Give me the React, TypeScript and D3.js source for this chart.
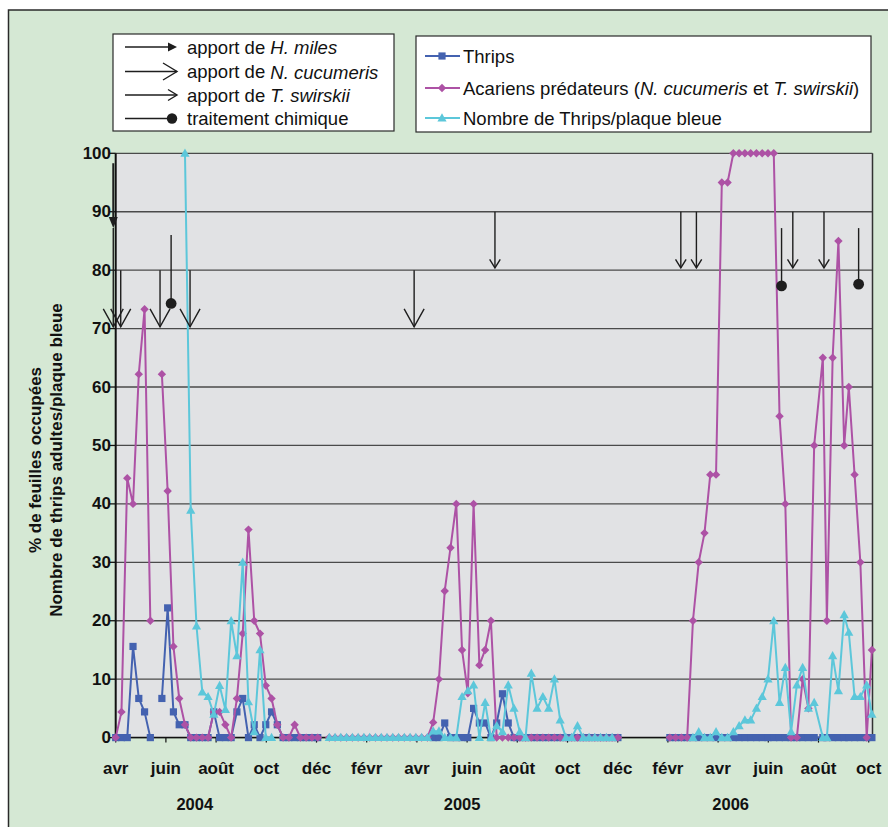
import React from 'react';
import * as d3 from 'd3';

// ---------- axis labels ----------
const monthLabels = ['avr', 'juin', 'août', 'oct', 'déc', 'févr', 'avr', 'juin', 'août', 'oct', 'déc', 'févr', 'avr', 'juin', 'août', 'oct'];
const monthTickIndex = [0, 2, 4, 6, 8, 10, 12, 14, 16, 18, 20, 22, 24, 26, 28, 30]; // months since avril 2004
const yearLabels = ['2004', '2005', '2006'];
const yearMonthPos = [3.15, 13.8, 24.5];
const yTicks = [0, 10, 20, 30, 40, 50, 60, 70, 80, 90, 100];

// ---------- data (x = semaines depuis le 1er avril 2004) ----------
// Thrips (% de feuilles occupées)
const thripsStart2004 = 0;
const thrips2004 = [0, 0, 0, 15.6, 6.7, 4.4, 0, null, 6.7, 22.2, 4.4, 2.2, 2.2, 0, 0, 0, 0, 4.4, 0, 0, 0, 4.4, 6.7, 0, 2.2, 0, 2.2, 4.4, 2.2, 0, 0, 0, 0, 0, 0, 0];
const thripsStart2005 = 55;
const thrips2005 = [0, 0, 2.5, 0, 0, 0, 0, 5, 2.5, 2.5, 0, 2.5, 7.5, 2.5, 0, 0, 0, 0, 0, 0, 0, 0, 0, 0, 0, 0, 0, 0, 0, 0, 0, 0, 0];

// Acariens prédateurs (% de feuilles occupées)
const acarStart2004 = 0;
const acar2004 = [0, 4.4, 44.4, 40, 62.2, 73.3, 20, null, 62.2, 42.2, 15.6, 6.7, 2.2, 0, 0, 0, 0, 4.4, 4.4, 2.2, 0, 6.7, 17.8, 35.6, 20, 17.8, 8.9, 6.7, 2.2, 0, 0, 2.2, 0, 0, 0, 0];
const acarStart2005 = 37;
const acar2005 = [0, 0, 0, 0, 0, 0, 0, 0, 0, 0, 0, 0, 0, 0, 0, 0, 0, 0, 2.6, 10, 25.1, 32.5, 40, 15, 7.6, 40, 12.4, 15, 20, 0, 0, 0, 0, 0, 0, 0, 0, 0, 0, 0, 0, 0, 0, 0, 0, 0, 0, 0, 0, 0, 0];

// 2006 sampling weeks
const weeks2006 = [96, 97, 98, 99, 100, 101, 102, 103, 104, 105, 106, 107, 108, 109, 110, 111, 112, 113, 114, 115, 116, 117, 118, 119, 120, 121, 122.5, 123.2, 124.2, 125.2, 126.2, 127, 128, 129, 130.1, 131];
const thrips2006 = [0, 0, 0, 0, 0, 0, 0, 0, 0, 0, 0, 0, 0, 0, 0, 0, 0, 0, 0, 0, 0, 0, 0, 0, 0, 0, 0, 0, 0, 0, 0, 0, 0, 0, 0, 0];
const acar2006 = [0, 0, 0, 0, 20, 30, 35, 45, 45, 95, 95, 100, 100, 100, 100, 100, 100, 100, 100, 55, 40, 0, 0, 10, 5, 50, 65, 20, 65, 85, 50, 60, 45, 30, 0, 15];

// Nombre de Thrips / plaque bleue
const plaqueStart2004 = 12;
const plaque2004 = [100, 38.9, 19.1, 7.8, 7, 4, 8.9, 4.8, 20, 14, 30, 6.1, 1, 15, 0, 0];
const plaqueStart2005 = 37;
const plaque2005 = [0, 0, 0, 0, 0, 0, 0, 0, 0, 0, 0, 0, 0, 0, 0, 0, 0, 0, 1.1, 1.1, 0, 0, 0, 7, 8, 9, 0, 6, 0, 2, 1, 9, 5, 1, 0, 11, 5, 7, 5, 10, 3, 0, 0, 2, 0, 0, 0, 0, 0, 0];
const plaqueWeeks2006 = [100, 101, 102, 103, 104, 105, 106, 107, 108, 109, 110, 111, 112, 113, 114, 115, 116, 117, 118, 119, 120, 121, 122.5, 123.2, 124.2, 125.2, 126.2, 127, 128, 129, 130.1, 131];
const plaque2006 = [0, 1, 0, 0, 1, 0, 0, 1, 2, 3, 3, 5, 7, 10, 20, 6, 12, 1, 9, 12, 5, 6, 0, 0, 14, 8, 21, 18, 7, 7, 9, 4];

// Interventions (x en semaines, y en unités de l'axe)
const hMilesEvents = [{ w: -0.42, from: 98.3, to: 87.2 }];
const cucumerisEvents = [
  { w: -0.42, from: 87.2, to: 70.3 },
  { w: 0.87, from: 80, to: 70.3 },
  { w: 7.68, from: 80, to: 70.3 },
  { w: 12.88, from: 80, to: 70.3 },
  { w: 51.7, from: 80, to: 70.3 },
];
const swirskiiEvents = [
  { w: 65.7, from: 90, to: 80.4 },
  { w: 97.9, from: 90, to: 80.4 },
  { w: 100.6, from: 90, to: 80.4 },
  { w: 117.3, from: 90, to: 80.4 },
  { w: 122.7, from: 90, to: 80.4 },
];
const chemEvents = [
  { w: 9.6, from: 86, to: 74.3 },
  { w: 115.35, from: 87.2, to: 77.3 },
  { w: 128.7, from: 87.2, to: 77.6 },
];

// ---------- layout ----------
const W = 888;
const H = 827;
const plotLeft = 115.7;
const plotRight = 872.5;
const plotTop = 153.3;
const plotBottom = 737.6;
const WEEKS_PER_MONTH = 365.25 / 12 / 7;

const FONT = "'Liberation Sans', Arial, Helvetica, sans-serif";
const C_THRIPS = '#4462b0';
const C_ACAR = '#ad52a5';
const C_PLAQUE = '#5cc7da';
const BG = '#d5e8d4';
const PLOT_BG = '#e1e2e4';

type Pt = { w: number; v: number | null };
const seg = (start: number, vals: (number | null)[]): Pt[] => vals.map((v, i) => ({ w: start + i, v }));
const segW = (weeks: number[], vals: (number | null)[]): Pt[] => weeks.map((w, i) => ({ w, v: vals[i] }));

const x = d3.scaleLinear().domain([0, 30 * WEEKS_PER_MONTH]).range([115.7, 868.7]);
const y = d3.scaleLinear().domain([0, 100]).range([plotBottom, plotTop]);
const xm = (m: number) => x(m * WEEKS_PER_MONTH);

const lineGen = d3
  .line<Pt>()
  .defined((d) => d.v !== null)
  .x((d) => x(d.w))
  .y((d) => y(d.v as number));

const thripsSegs = [seg(thripsStart2004, thrips2004), seg(thripsStart2005, thrips2005), segW(weeks2006, thrips2006)];
const acarSegs = [seg(acarStart2004, acar2004), seg(acarStart2005, acar2005), segW(weeks2006, acar2006)];
const plaqueSegs = [seg(plaqueStart2004, plaque2004), seg(plaqueStart2005, plaque2005), segW(plaqueWeeks2006, plaque2006)];

const squarePath = 'M-3.6,-3.6H3.6V3.6H-3.6Z';
const diamondPath = 'M0,-4.2L4.2,0L0,4.2L-4.2,0Z';
const trianglePath = 'M0,-4.8L4.6,3.4L-4.6,3.4Z';

function Series({ segs, color, marker }: { segs: Pt[][]; color: string; marker: string }) {
  return (
    <g>
      {segs.map((s, i) => (
        <path key={'l' + i} d={lineGen(s) || ''} fill="none" stroke={color} strokeWidth={2} strokeLinejoin="round" />
      ))}
      {segs.map((s, i) =>
        s
          .filter((d) => d.v !== null)
          .map((d, j) => (
            <path key={'m' + i + '-' + j} d={marker} transform={`translate(${x(d.w)},${y(d.v as number)})`} fill={color} />
          ))
      )}
    </g>
  );
}

const vHead = (tx: number, ty: number, hw: number, h: number) => `M${tx - hw},${ty - h}L${tx},${ty}L${tx + hw},${ty - h}`;

export default function App() {
  const arrowColor = '#1e1e1e';
  return (
    <svg width={W} height={H} style={{ position: 'absolute', left: 0, top: 0 }} fontFamily={FONT}>
      <rect x={0} y={0} width={W} height={H} fill="#ffffff" />
      <rect x={8.5} y={10} width={W + 10} height={H + 10} fill={BG} stroke="#2a2a2a" strokeWidth={1.5} />

      {/* Legend 1 */}
      <g>
        <rect x={113} y={34} width={281} height={97} fill="#fff" stroke="#2a2a2a" strokeWidth={1.2} />
        {/* H. miles */}
        <line x1={125} y1={47} x2={170} y2={47} stroke={arrowColor} strokeWidth={1.4} />
        <path d="M168,42.5L177,47L168,51.5Z" fill={arrowColor} />
        <text x={187} y={47} fontSize={18.5} dominantBaseline="central" fill="#111">
          apport de <tspan fontStyle="italic">H. miles</tspan>
        </text>
        {/* N. cucumeris */}
        <line x1={125} y1={71.5} x2={177} y2={71.5} stroke={arrowColor} strokeWidth={1.4} />
        <path d="M163,63L177,71.5L163,80" fill="none" stroke={arrowColor} strokeWidth={1.4} />
        <text x={187} y={71.5} fontSize={18.5} dominantBaseline="central" fill="#111">
          apport de <tspan fontStyle="italic">N. cucumeris</tspan>
        </text>
        {/* T. swirskii */}
        <line x1={125} y1={95} x2={177} y2={95} stroke={arrowColor} strokeWidth={1.4} />
        <path d="M168,89.5L177,95L168,100.5" fill="none" stroke={arrowColor} strokeWidth={1.4} />
        <text x={187} y={95} fontSize={18.5} dominantBaseline="central" fill="#111">
          apport de <tspan fontStyle="italic">T. swirskii</tspan>
        </text>
        {/* traitement chimique */}
        <line x1={125} y1={118.5} x2={172} y2={118.5} stroke={arrowColor} strokeWidth={1.4} />
        <circle cx={172} cy={118.5} r={5.2} fill={arrowColor} />
        <text x={187} y={118.5} fontSize={18.5} dominantBaseline="central" fill="#111">
          traitement chimique
        </text>
      </g>

      {/* Legend 2 */}
      <g>
        <rect x={416} y={36} width={455} height={96} fill="#fff" stroke="#2a2a2a" strokeWidth={1.2} />
        <line x1={425} y1={56} x2={460} y2={56} stroke={C_THRIPS} strokeWidth={2} />
        <path d={squarePath} transform="translate(442,56)" fill={C_THRIPS} />
        <text x={463} y={56} fontSize={18.5} dominantBaseline="central" fill="#111">Thrips</text>
        <line x1={425} y1={88} x2={460} y2={88} stroke={C_ACAR} strokeWidth={2} />
        <path d={diamondPath} transform="translate(442,88)" fill={C_ACAR} />
        <text x={463} y={88} fontSize={18.5} dominantBaseline="central" fill="#111">
          Acariens prédateurs (<tspan fontStyle="italic">N. cucumeris</tspan> et <tspan fontStyle="italic">T. swirskii</tspan>)
        </text>
        <line x1={425} y1={118} x2={460} y2={118} stroke={C_PLAQUE} strokeWidth={2} />
        <path d={trianglePath} transform="translate(442,118)" fill={C_PLAQUE} />
        <text x={463} y={118} fontSize={18.5} dominantBaseline="central" fill="#111">Nombre de Thrips/plaque bleue</text>
      </g>

      {/* Plot area */}
      <rect x={plotLeft} y={plotTop} width={plotRight - plotLeft} height={plotBottom - plotTop} fill={PLOT_BG} />
      {yTicks.map((t) => (
        <line key={'g' + t} x1={plotLeft} x2={plotRight} y1={y(t)} y2={y(t)} stroke="#4a4a4a" strokeWidth={1.3} />
      ))}
      <line x1={plotRight} x2={plotRight} y1={plotTop} y2={plotBottom} stroke="#333" strokeWidth={1.5} />
      {/* y axis */}
      <line x1={plotLeft} x2={plotLeft} y1={plotTop} y2={plotBottom} stroke="#111" strokeWidth={2} />
      {yTicks.map((t) => (
        <g key={'yt' + t}>
          <line x1={plotLeft - 6} x2={plotLeft} y1={y(t)} y2={y(t)} stroke="#111" strokeWidth={1.3} />
          <text x={111} y={y(t)} textAnchor="end" dominantBaseline="central" fontSize={17} fontWeight="bold" fill="#111">
            {t}
          </text>
        </g>
      ))}
      {/* x axis */}
      <line x1={plotLeft} x2={plotRight} y1={plotBottom} y2={plotBottom} stroke="#111" strokeWidth={1.5} />
      {monthTickIndex.map((m, i) => (
        <g key={'xt' + i}>
          <line x1={xm(m)} x2={xm(m)} y1={plotBottom} y2={plotBottom + 5} stroke="#111" strokeWidth={1.2} />
          <text x={xm(m)} y={768} textAnchor="middle" dominantBaseline="central" fontSize={17} fontWeight="bold" fill="#111">
            {monthLabels[i]}
          </text>
        </g>
      ))}
      {yearLabels.map((l, i) => (
        <text key={l} x={xm(yearMonthPos[i])} y={804} textAnchor="middle" dominantBaseline="central" fontSize={16.5} fontWeight="bold" fill="#111">
          {l}
        </text>
      ))}

      {/* y title */}
      <text transform="translate(35,460) rotate(-90)" textAnchor="middle" dominantBaseline="central" fontSize={17} fontWeight="bold" fill="#111">
        % de feuilles occupées
      </text>
      <text transform="translate(56,460) rotate(-90)" textAnchor="middle" dominantBaseline="central" fontSize={17} fontWeight="bold" fill="#111">
        Nombre de thrips adultes/plaque bleue
      </text>

      {/* Series */}
      <Series segs={thripsSegs} color={C_THRIPS} marker={squarePath} />
      <Series segs={acarSegs} color={C_ACAR} marker={diamondPath} />
      <Series segs={plaqueSegs} color={C_PLAQUE} marker={trianglePath} />

      {/* Interventions */}
      {hMilesEvents.map((e, i) => (
        <g key={'h' + i}>
          <line x1={x(e.w)} x2={x(e.w)} y1={y(e.from)} y2={y(e.to) - 8} stroke={arrowColor} strokeWidth={2} />
          <path d={`M${x(e.w) - 4.5},${y(e.to) - 11}L${x(e.w) + 4.5},${y(e.to) - 11}L${x(e.w)},${y(e.to)}Z`} fill={arrowColor} />
        </g>
      ))}
      {cucumerisEvents.map((e, i) => (
        <g key={'c' + i}>
          <line x1={x(e.w)} x2={x(e.w)} y1={y(e.from)} y2={y(e.to)} stroke={arrowColor} strokeWidth={1.4} />
          <path d={vHead(x(e.w), y(e.to), 10, 18)} fill="none" stroke={arrowColor} strokeWidth={1.4} />
        </g>
      ))}
      {swirskiiEvents.map((e, i) => (
        <g key={'s' + i}>
          <line x1={x(e.w)} x2={x(e.w)} y1={y(e.from)} y2={y(e.to)} stroke={arrowColor} strokeWidth={1.4} />
          <path d={vHead(x(e.w), y(e.to), 5.3, 8.5)} fill="none" stroke={arrowColor} strokeWidth={1.4} />
        </g>
      ))}
      {chemEvents.map((e, i) => (
        <g key={'t' + i}>
          <line x1={x(e.w)} x2={x(e.w)} y1={y(e.from)} y2={y(e.to)} stroke={arrowColor} strokeWidth={1.4} />
          <circle cx={x(e.w)} cy={y(e.to)} r={5.4} fill={arrowColor} />
        </g>
      ))}
    </svg>
  );
}
